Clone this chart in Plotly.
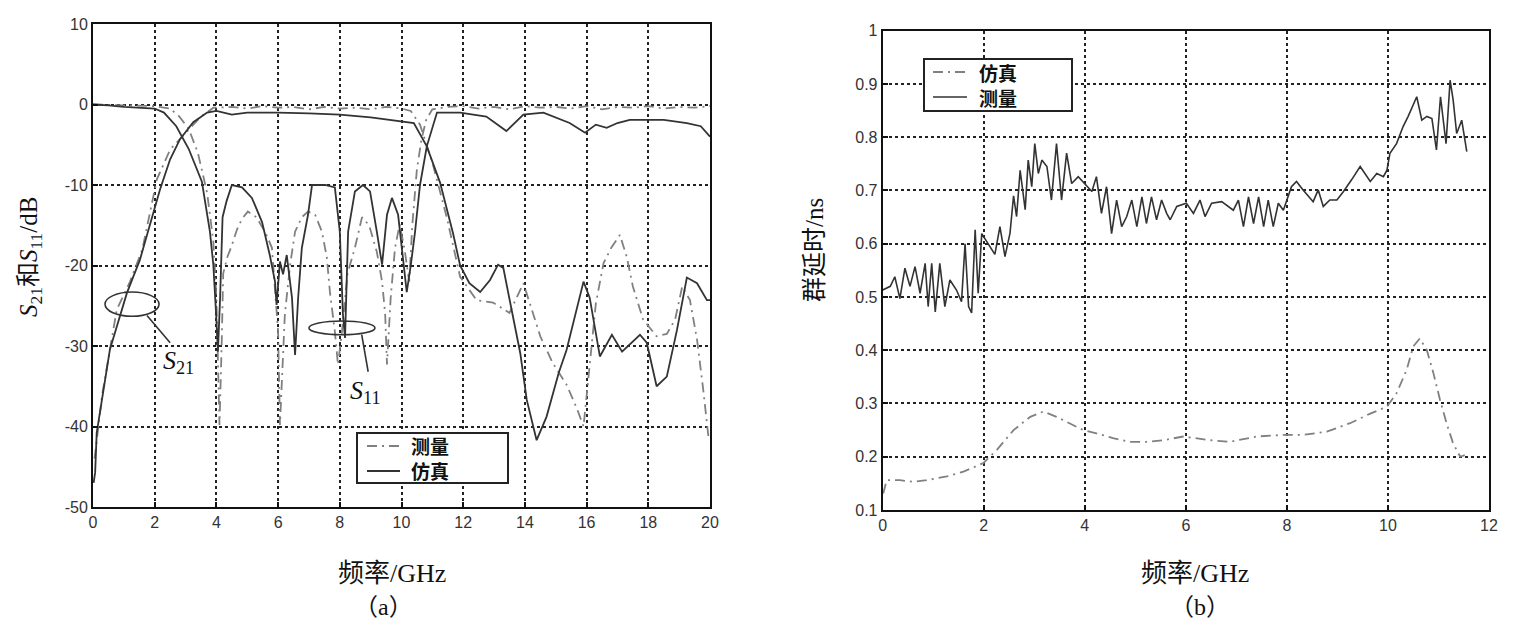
import plotly.graph_objects as go

# ---------------- data: panel (a) ----------------
s21_sim_x = [0.02, 0.07, 0.12, 0.33, 0.55, 0.77, 1.1, 1.52, 1.95, 2.17, 2.5, 2.82, 3.25, 3.7, 4.0, 4.5, 5.0, 6.0, 7.0, 8.0, 9.0, 10.0, 10.4, 10.82, 11.25, 11.67, 11.9, 12.2, 12.55, 12.87, 13.13, 13.3, 13.63, 13.85, 14.06, 14.38, 14.7, 15.1, 15.35, 15.7, 15.9, 16.1, 16.43, 16.82, 17.15, 17.73, 17.95, 18.27, 18.6, 18.93, 19.25, 19.58, 19.9, 20.0]
s21_sim_y = [-47, -45.7, -40.8, -35.8, -30.4, -27.6, -23.4, -19.3, -13.5, -10.6, -6.8, -4.3, -2.2, -1.0, -0.8, -1.25, -1.0, -1.0, -1.1, -1.25, -1.6, -2.1, -2.3, -5.2, -9.7, -16, -20, -22.2, -23.3, -21.8, -19.9, -20.3, -26.4, -30.9, -36.7, -41.7, -38.8, -33.3, -30.5, -25, -22, -24, -31.3, -28.6, -30.7, -28.6, -29.6, -35, -33.8, -28, -21.5, -22.2, -24.3, -24.3]

s11_sim_x = [0, 0.5, 1.0, 1.5, 2.0, 2.3, 2.7, 3.1, 3.53, 3.79, 3.9, 3.99, 4.05, 4.12, 4.2, 4.33, 4.5, 4.83, 5.15, 5.48, 5.73, 5.9, 5.95, 6.06, 6.16, 6.28, 6.45, 6.55, 6.65, 6.77, 6.97, 7.1, 7.52, 7.84, 8.0, 8.1, 8.17, 8.27, 8.49, 8.75, 8.98, 9.2, 9.37, 9.53, 9.69, 9.89, 10.11, 10.17, 10.3, 10.44, 10.6, 10.82, 11.15, 11.9, 12.75, 13.4, 13.95, 14.6, 15.45, 15.95, 16.3, 16.65, 17.0, 17.4, 17.9, 18.5, 19.25, 19.7, 20.0]
s11_sim_y = [0, -0.1, -0.3, -0.4, -0.5, -1.0, -2.7, -5.5, -9.6, -15.8, -19.9, -26, -30.7, -24, -14, -12, -10, -10.3, -11.6, -14.6, -18.7, -22, -24.9, -19.5, -21.1, -18.7, -24, -31.1, -24, -17.8, -13.7, -10, -10, -10.3, -15.8, -26, -29, -15.8, -10.8, -10, -10.8, -15.8, -19.9, -13.7, -11.6, -13.7, -21.1, -23.3, -20, -15.8, -10, -5.2, -1.0, -1.0, -1.5, -3.3, -1.25, -1.0, -2.3, -3.5, -2.5, -2.9, -2.3, -1.9, -1.9, -1.9, -2.3, -2.7, -4]

s21_meas_x = [0.05, 0.3, 0.77, 1.2, 1.6, 2.07, 2.5, 3.0, 3.5, 3.9, 4.5, 5.0, 5.5, 6.0, 6.5, 7.0, 7.5, 8.0, 8.5, 9.0, 9.5, 10.0, 10.3, 10.6, 11.0, 11.46, 11.9, 12.43, 12.97, 13.5, 13.95, 14.5, 14.9, 15.35, 15.7, 15.9, 16.3, 16.55, 16.8, 17.08, 17.3, 17.5, 17.83, 18.27, 18.6, 18.87, 19.1, 19.35, 19.58, 19.78, 19.95]
s21_meas_y = [-44, -36, -25.5, -22, -18, -9.3, -5.6, -3.5, -1.5, -0.4, -0.3, -0.5, -0.2, -0.4, -0.3, -0.6, -0.3, -0.5, -0.4, -0.6, -0.3, -0.5, -0.8, -2.5, -7.2, -13.9, -21.4, -24.3, -24.6, -25.9, -22.2, -28.8, -32.1, -34.8, -37.9, -40, -24.7, -19.7, -17.8, -16.2, -18.9, -22.6, -26.7, -28.8, -28.5, -26.7, -22.6, -24.3, -29.2, -35.4, -41.3]

s11_meas_x = [0, 1, 2, 2.5, 2.8, 3.1, 3.4, 3.7, 3.9, 4.0, 4.1, 4.17, 4.22, 4.35, 4.5, 4.67, 4.83, 5.02, 5.3, 5.6, 5.8, 6.0, 6.06, 6.22, 6.39, 6.55, 6.77, 6.97, 7.2, 7.42, 7.58, 7.68, 7.84, 7.94, 8.07, 8.25, 8.49, 8.72, 8.95, 9.2, 9.37, 9.47, 9.53, 9.65, 9.79, 9.94, 10.1, 10.25, 10.35, 10.5, 10.65, 10.8, 11.0, 11.5, 12, 12.5, 13, 13.5, 14, 14.5, 15, 15.5, 16, 16.5, 17, 17.5, 18, 18.5, 19, 19.5, 20]
s11_meas_y = [0, -0.1, -0.2, -0.5, -1.5, -3, -6, -11, -17, -24, -39.8, -30, -21, -19, -17.5, -15.5, -14.2, -13.3, -14, -16, -17.8, -28.2, -39.8, -26, -19.9, -15.8, -14, -13.3, -13.7, -15.8, -19, -23.3, -28.2, -32.3, -28.2, -21, -17.8, -14, -15, -18.3, -22, -26, -32.3, -24, -17.8, -14.9, -18, -22, -15, -8, -4.3, -1.9, -0.6, -0.3, -0.2, -0.5, -0.3, -0.6, -0.2, -0.4, -0.3, -0.5, -0.2, -0.6, -0.3, -0.4, -0.2, -0.5, -0.3, -0.4, -0.2]

a_xticks = [0, 2, 4, 6, 8, 10, 12, 14, 16, 18, 20]
a_yticks = [-50, -40, -30, -20, -10, 0, 10]
a_yticklabels = ["-50", "-40", "-30", "-20", "-10", "0", "10"]
a_legend_names = ["测量", "仿真"]

# ---------------- data: panel (b) ----------------
gd_meas_x = [0, 0.15, 0.24, 0.34, 0.44, 0.54, 0.64, 0.74, 0.84, 0.9, 0.97, 1.04, 1.13, 1.23, 1.33, 1.46, 1.56, 1.63, 1.7, 1.76, 1.83, 1.89, 1.96, 2.09, 2.22, 2.32, 2.42, 2.52, 2.59, 2.65, 2.72, 2.82, 2.88, 2.95, 3.01, 3.08, 3.15, 3.25, 3.34, 3.44, 3.54, 3.64, 3.74, 3.87, 4.0, 4.14, 4.23, 4.33, 4.43, 4.53, 4.63, 4.73, 4.83, 4.93, 5.03, 5.13, 5.22, 5.32, 5.42, 5.52, 5.62, 5.69, 5.82, 6.01, 6.15, 6.28, 6.38, 6.51, 6.71, 6.94, 7.04, 7.14, 7.24, 7.34, 7.44, 7.54, 7.63, 7.73, 7.83, 7.93, 8.0, 8.09, 8.19, 8.32, 8.52, 8.62, 8.72, 8.85, 8.99, 9.12, 9.28, 9.45, 9.65, 9.78, 9.91, 9.98, 10.04, 10.17, 10.3, 10.4, 10.57, 10.67, 10.77, 10.87, 10.96, 11.04, 11.15, 11.23, 11.29, 11.36, 11.46, 11.56]
gd_meas_y = [0.513, 0.52, 0.538, 0.497, 0.554, 0.52, 0.557, 0.507, 0.563, 0.482, 0.563, 0.472, 0.563, 0.482, 0.532, 0.513, 0.491, 0.6, 0.482, 0.47, 0.626, 0.507, 0.619, 0.6, 0.58, 0.632, 0.576, 0.62, 0.69, 0.651, 0.738, 0.664, 0.757, 0.707, 0.788, 0.732, 0.757, 0.745, 0.682, 0.788, 0.682, 0.77, 0.713, 0.726, 0.713, 0.698, 0.726, 0.657, 0.707, 0.619, 0.682, 0.632, 0.651, 0.682, 0.632, 0.688, 0.638, 0.688, 0.645, 0.682, 0.657, 0.645, 0.67, 0.676, 0.657, 0.682, 0.651, 0.676, 0.679, 0.663, 0.682, 0.632, 0.688, 0.638, 0.688, 0.632, 0.682, 0.632, 0.676, 0.663, 0.682, 0.707, 0.717, 0.701, 0.679, 0.701, 0.67, 0.682, 0.682, 0.698, 0.72, 0.745, 0.717, 0.732, 0.726, 0.738, 0.77, 0.788, 0.82, 0.839, 0.876, 0.832, 0.839, 0.835, 0.776, 0.876, 0.788, 0.907, 0.87, 0.807, 0.832, 0.773]

gd_sim_x = [0.01, 0.08, 0.34, 0.61, 0.87, 1.27, 1.6, 1.99, 2.26, 2.59, 2.92, 3.18, 3.44, 3.71, 3.97, 4.23, 4.56, 4.89, 5.22, 5.55, 5.95, 6.48, 6.87, 7.4, 7.93, 8.32, 8.79, 9.25, 9.65, 9.98, 10.17, 10.37, 10.5, 10.63, 10.77, 10.9, 11.03, 11.16, 11.29, 11.43, 11.52]
gd_sim_y = [0.131, 0.156, 0.156, 0.153, 0.156, 0.163, 0.172, 0.188, 0.213, 0.25, 0.275, 0.285, 0.275, 0.263, 0.25, 0.244, 0.235, 0.228, 0.228, 0.231, 0.238, 0.231, 0.228, 0.238, 0.241, 0.241, 0.247, 0.263, 0.281, 0.294, 0.319, 0.363, 0.407, 0.422, 0.4, 0.357, 0.307, 0.263, 0.225, 0.2, 0.203]

b_xticks = [0, 2, 4, 6, 8, 10, 12]
b_yticks = [0.1, 0.2, 0.3, 0.4, 0.5, 0.6, 0.7, 0.8, 0.9, 1.0]
b_yticklabels = ["0.1", "0.2", "0.3", "0.4", "0.5", "0.6", "0.7", "0.8", "0.9", "1"]
b_legend_names = ["仿真", "测量"]

# ---------------- styles ----------------
SOLID = dict(color="#333333", width=1.8)
DASHED = dict(color="#808080", width=1.8, dash="10px,5px,2px,5px")
TICKFONT = dict(family="Liberation Sans, Arial, sans-serif", size=16, color="#333333")
SERIF = "Liberation Serif, Times New Roman, Noto Sans CJK SC, serif"
CJK = "Noto Sans CJK SC, sans-serif"

fig = go.Figure()

# panel (a)
fig.add_trace(go.Scatter(x=s21_meas_x, y=s21_meas_y, mode="lines", line=DASHED, name="测量 S21",
                         showlegend=False, xaxis="x", yaxis="y"))
fig.add_trace(go.Scatter(x=s11_meas_x, y=s11_meas_y, mode="lines", line=DASHED, name="测量 S11",
                         showlegend=False, xaxis="x", yaxis="y"))
fig.add_trace(go.Scatter(x=s21_sim_x, y=s21_sim_y, mode="lines", line=SOLID, name="仿真 S21",
                         showlegend=False, xaxis="x", yaxis="y"))
fig.add_trace(go.Scatter(x=s11_sim_x, y=s11_sim_y, mode="lines", line=SOLID, name="仿真 S11",
                         showlegend=False, xaxis="x", yaxis="y"))

# panel (b)
fig.add_trace(go.Scatter(x=gd_sim_x, y=gd_sim_y, mode="lines", line=DASHED, name="仿真",
                         showlegend=False, xaxis="x2", yaxis="y2"))
fig.add_trace(go.Scatter(x=gd_meas_x, y=gd_meas_y, mode="lines", line=dict(color="#333333", width=1.6),
                         name="测量", showlegend=False, xaxis="x2", yaxis="y2"))

W, H = 1518, 636
axis_common = dict(showline=True, linecolor="#111111", linewidth=2, mirror=True,
                   showgrid=True, gridcolor="#222222", gridwidth=2, griddash="3px,3px",
                   zeroline=False, ticks="inside", ticklen=5, tickwidth=1.5, tickcolor="#111111",
                   tickfont=TICKFONT, fixedrange=True, automargin=False)

fig.update_layout(
    width=W, height=H, autosize=False,
    margin=dict(l=0, r=0, t=0, b=0, pad=0),
    paper_bgcolor="white", plot_bgcolor="white",
    xaxis=dict(domain=[93 / W, 710 / W], range=[0, 20], tickmode="array", tickvals=a_xticks,
               ticktext=[str(v) for v in a_xticks], anchor="y", **axis_common),
    yaxis=dict(domain=[(H - 507) / H, (H - 24) / H], range=[-50, 10], tickmode="array",
               tickvals=a_yticks, ticktext=a_yticklabels, anchor="x", **axis_common),
    xaxis2=dict(domain=[882.7 / W, 1489 / W], range=[0, 12], tickmode="array", tickvals=b_xticks,
                ticktext=[str(v) for v in b_xticks], anchor="y2", **axis_common),
    yaxis2=dict(domain=[(H - 510) / H, (H - 30.7) / H], range=[0.1, 1.0], tickmode="array",
                tickvals=b_yticks, ticktext=b_yticklabels, anchor="x2", **axis_common),
    showlegend=False,
)

def px(x):
    return x / W

def py(y):
    return (H - y) / H

shapes = []
ann = []

# callout ellipses and leader lines in panel (a)
shape_line = dict(color="#333333", width=1.6)
shapes.append(dict(type="circle", xref="x", yref="y", x0=0.39, x1=2.14, y0=-26.3, y1=-23.3, line=shape_line))
shapes.append(dict(type="line", xref="x", yref="y", x0=1.75, y0=-26.2, x1=2.5, y1=-29.6, line=shape_line))
shapes.append(dict(type="circle", xref="x", yref="y", x0=7.0, x1=9.14, y0=-28.6, y1=-26.9, line=shape_line))
shapes.append(dict(type="line", xref="x", yref="y", x0=8.71, y0=-28.6, x1=8.92, y1=-33.2, line=shape_line))

# boxed legends (MATLAB style); the two entry names share one text block
def legend_box(left, top, right, bottom, names, styles, sample_x0, sample_x1, text_x, rows_y):
    shapes.append(dict(type="rect", xref="paper", yref="paper", x0=px(left), x1=px(right),
                       y0=py(bottom), y1=py(top), line=dict(color="#222222", width=2),
                       fillcolor="white", layer="above"))
    for st, ry in zip(styles, rows_y):
        shapes.append(dict(type="line", xref="paper", yref="paper", x0=px(sample_x0), x1=px(sample_x1),
                           y0=py(ry), y1=py(ry), line=st, layer="above"))
    ann.append(dict(xref="paper", yref="paper", x=px(text_x), y=py(sum(rows_y) / len(rows_y)),
                    text="<br>".join(names), showarrow=False, align="left",
                    xanchor="left", yanchor="middle",
                    font=dict(family=CJK, size=19, color="#111111", weight="bold")))

legend_box(357, 433, 508, 483, a_legend_names, [DASHED, SOLID], 367, 400, 409, [446, 471])
legend_box(924, 59, 1072, 111, b_legend_names, [DASHED, dict(color="#333333", width=1.6)], 933, 967, 977, [72, 97])

def note(x, y, text, size, xref="paper", yref="paper", angle=0, family=SERIF):
    return dict(xref=xref, yref=yref, x=x, y=y, text=text, showarrow=False, textangle=angle,
                xanchor="center", yanchor="middle",
                font=dict(family=family, size=size, color="#111111"))

ann += [
    note(2.76, -32, "<i>S</i><sub>21</sub>", 26, "x", "y"),
    note(8.82, -35.7, "<i>S</i><sub>11</sub>", 26, "x", "y"),
    note(px(30), py(257), "<i>S</i><sub>21</sub>和<i>S</i><sub>11</sub>/dB", 25, angle=-90),
    note(px(814), py(250), "群延时/ns", 25, angle=-90),
    note(px(392), py(573), "频率/GHz", 26),
    note(px(1195), py(573), "频率/GHz", 26),
    note(px(383), py(607), "（a）", 24),
    note(px(1200), py(607), "（b）", 24),
]
fig.update_layout(shapes=shapes, annotations=ann)

fig.write_html("out.html", config={"displayModeBar": False},
               post_script="document.body.style.margin='0';document.body.style.overflow='hidden';")
